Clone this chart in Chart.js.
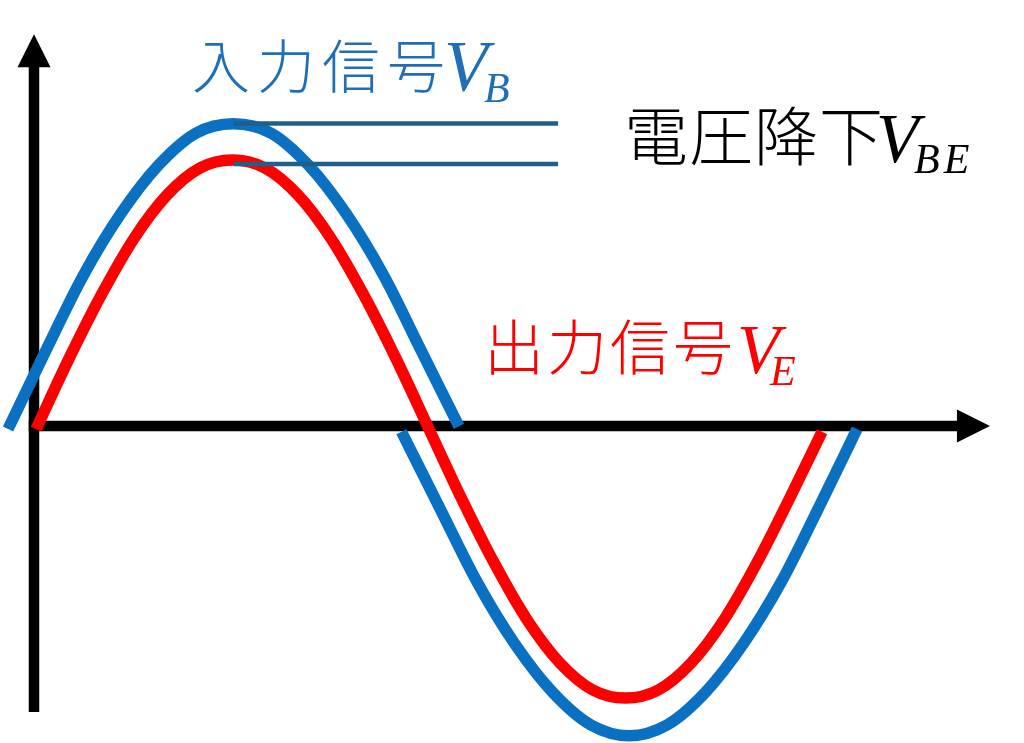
<!DOCTYPE html>
<html><head><meta charset="utf-8">
<script src="https://cdn.jsdelivr.net/npm/chart.js@4.4.1/dist/chart.umd.min.js"></script>
<style>html,body{margin:0;padding:0;background:#fff;overflow:hidden}canvas{display:block}</style>
</head><body>
<canvas id="c" width="1024" height="743"></canvas>
<script>
// ---- data (x: phase in degrees, y: voltage, output amplitude = 1) ----
const RED_X  = [0,15,30,45,60,75,90,105,120,135,150,165,180,195,210,225,240,255,270,285,300,315,330,345,360];
const RED_Y  = [0,0.26,0.5,0.71,0.87,0.97,1.0,0.97,0.87,0.71,0.5,0.26,0,-0.26,-0.5,-0.71,-0.87,-0.97,-1.0,-0.97,-0.87,-0.71,-0.5,-0.26,-0.01];
const BLUE1_X = [-12.8,4.4,21.6,38.8,56.0,73.2,90.4,107.7,124.9,142.1,159.3,176.5,193.7];
const BLUE1_Y = [0,0.29,0.57,0.80,0.98,1.10,1.135,1.10,0.98,0.80,0.57,0.29,0.01];
const BLUE2_X = [167.4,184.7,202.1,219.4,236.8,254.2,271.6,289.0,306.4,323.8,341.2,358.6,376.0];
const BLUE2_Y = [-0.01,-0.29,-0.57,-0.80,-0.98,-1.10,-1.14,-1.10,-0.98,-0.80,-0.57,-0.29,0];
const DROP_X  = [90.5,239.1];
const DROP_HIGH_Y = [1.136,1.136];
const DROP_LOW_Y  = [0.985,0.985];
const TEXT_IN  = '入力信号', SUB_IN  = 'B';
const TEXT_VBE = '電圧降下', SUB_VBE = 'BE';
const TEXT_OUT = '出力信号', SUB_OUT = 'E';
// axis extents (data units)
const AXIS_H = {y:0.011, x0:-0.92, x1:436.9};
const AXIS_V = {x:-0.92, y0:-1.052, y1:1.468};

const pts = (xs, ys) => xs.map((x,i)=>({x, y: ys[i]}));

const BLUE='#0A70C2', RED='#FF0000', TEAL='#1E5F8C';

const axesPlugin = {
  id:'axes',
  beforeDatasetsDraw(chart){
    const ctx=chart.ctx, xs=chart.scales.x, ys=chart.scales.y;
    const A=33, W=10.5;
    ctx.save();
    ctx.fillStyle='#000'; ctx.strokeStyle='#000'; ctx.lineWidth=W; ctx.lineCap='butt';
    const hy=ys.getPixelForValue(AXIS_H.y), hx0=xs.getPixelForValue(AXIS_H.x0)-W/2, hx1=xs.getPixelForValue(AXIS_H.x1);
    ctx.beginPath(); ctx.moveTo(hx0,hy); ctx.lineTo(hx1-A+1,hy); ctx.stroke();
    ctx.beginPath(); ctx.moveTo(hx1,hy); ctx.lineTo(hx1-A,hy-A/2); ctx.lineTo(hx1-A,hy+A/2); ctx.closePath(); ctx.fill();
    const vx=xs.getPixelForValue(AXIS_V.x), vy0=ys.getPixelForValue(AXIS_V.y0), vy1=ys.getPixelForValue(AXIS_V.y1);
    ctx.beginPath(); ctx.moveTo(vx,vy0); ctx.lineTo(vx,vy1+A-1); ctx.stroke();
    ctx.beginPath(); ctx.moveTo(vx,vy1); ctx.lineTo(vx-A/2,vy1+A); ctx.lineTo(vx+A/2,vy1+A); ctx.closePath(); ctx.fill();
    ctx.restore();
  }
};

function label(ctx, txt, sub, color, x, base, cjkSize, spacing, vx, vSize, vBase, sx, sSize, sBase, sSpacing){
  ctx.fillStyle=color;
  ctx.textBaseline='alphabetic'; ctx.textAlign='left';
  ctx.font = '300 '+cjkSize+'px "Noto Sans CJK JP"';
  ctx.letterSpacing = spacing+'px';
  ctx.fillText(txt, x, base);
  ctx.letterSpacing='0px';
  ctx.font = 'italic '+vSize+'px "Liberation Serif"';
  ctx.fillText('V', vx, vBase);
  ctx.font = 'italic '+sSize+'px "Liberation Serif"';
  ctx.letterSpacing = sSpacing+'px';
  ctx.fillText(sub, sx, sBase);
  ctx.letterSpacing='0px';
}

const textPlugin = {
  id:'texts',
  afterDatasetsDraw(chart){
    const ctx=chart.ctx;
    ctx.save();
    label(ctx, TEXT_IN, SUB_IN, '#1F6FB8', 192, 88, 58, 7, 444, 72, 90, 484, 42, 102, 0);
    label(ctx, TEXT_VBE, SUB_VBE, '#000', 624, 160, 64, 1, 876, 70, 162, 914, 42, 173, 4);
    label(ctx, TEXT_OUT, SUB_OUT, '#FF0000', 484, 370, 60, 3, 737, 70, 373, 770, 42, 385, 0);
    ctx.restore();
  }
};

const lineDs = (xs, ys, color, w) => ({data:pts(xs,ys), borderColor:color, borderWidth:w, showLine:true, cubicInterpolationMode:'monotone', clip:false});

new Chart(document.getElementById('c'), {
  type:'scatter',
  data:{ datasets:[
    lineDs(DROP_X, DROP_HIGH_Y, TEAL, 4.5),
    lineDs(DROP_X, DROP_LOW_Y, TEAL, 4.5),
    lineDs(RED_X, RED_Y, RED, 11.5),
    lineDs(BLUE1_X, BLUE1_Y, BLUE, 11.5),
    lineDs(BLUE2_X, BLUE2_Y, BLUE, 11.5)
  ]},
  options:{
    responsive:false, animation:false, devicePixelRatio:1,
    layout:{padding:0},
    elements:{point:{radius:0, hoverRadius:0}, line:{borderCapStyle:'butt', borderJoinStyle:'round', fill:false}},
    plugins:{legend:{display:false}, tooltip:{enabled:false}},
    events:[],
    scales:{
      x:{type:'linear', display:false, min:-16.49, max:452.5},
      y:{type:'linear', display:false, min:-1.167, max:1.595}
    }
  },
  plugins:[axesPlugin, textPlugin]
});
</script>
</body></html>
